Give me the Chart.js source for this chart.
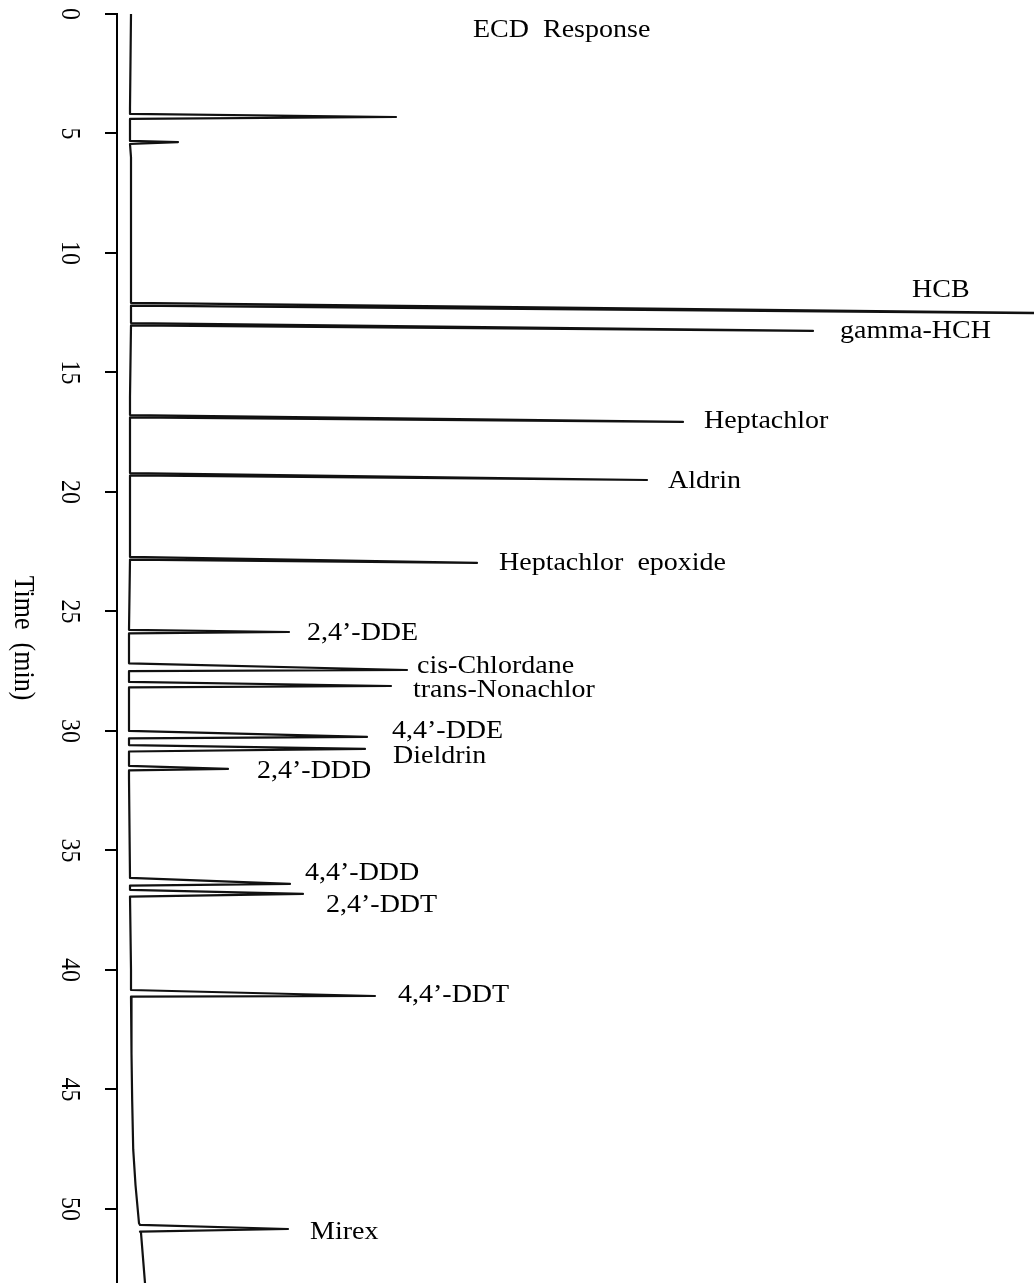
<!DOCTYPE html>
<html>
<head>
<meta charset="utf-8">
<title>ECD Response</title>
<script src="https://cdn.jsdelivr.net/npm/chart.js@4.4.1/dist/chart.umd.min.js"></script>
<style>
    body { margin: 0; background: #fff; }
    #wrap { width: 1034px; height: 1283px; position: relative; }
</style>
</head>
<body>
<div id="wrap"><canvas id="ecdChart"></canvas></div>
<script>
// peaks (time in min, response in arbitrary units)
const peakNames = ['', '', 'HCB', 'gamma-HCH', 'Heptachlor', 'Aldrin', 'Heptachlor  epoxide', '2,4’-DDE',
    'cis-Chlordane', 'trans-Nonachlor', '4,4’-DDE', 'Dieldrin', '2,4’-DDD', '4,4’-DDD', '2,4’-DDT', '4,4’-DDT', 'Mirex'];
const peakStart = [4.18, 5.31, 12.09, 12.93, 16.78, 19.21, 22.72, 25.77, 27.17, 27.95, 30.00, 30.59, 31.46, 36.15, 36.65, 40.84, 50.67];
const peakApex  = [4.31, 5.36, 12.55, 13.26, 17.07, 19.50, 22.97, 25.86, 27.45, 28.12, 30.25, 30.75, 31.59, 36.40, 36.82, 41.09, 50.84];
const peakEnd   = [4.39, 5.44, 12.20, 13.03, 16.88, 19.31, 22.83, 25.92, 27.50, 28.18, 30.31, 30.86, 31.65, 36.47, 36.93, 41.12, 50.95];
const peakHeight = [26.6, 4.8, 100, 68.3, 55.3, 51.7, 34.7, 15.9, 27.7, 26.1, 23.7, 23.5, 9.8, 16.0, 17.3, 24.5, 15.8];
const peakBase = [0, 0, 0.1, 0.1, 0, 0, 0, -0.1, -0.1, -0.1, -0.1, -0.1, -0.1, 0, 0, 0.1, 1.0];

// baseline drift between peaks
const baseTimes = [0, 3.9, 6, 12, 16, 26, 32, 40, 43.5, 45.5, 47.5, 49.0, 50.6, 51.0, 53.1];
const baseResp  = [0.1, 0.0, 0.1, 0.1, 0.0, -0.1, -0.1, 0.1, 0.15, 0.22, 0.32, 0.55, 0.9, 1.1, 1.5];

const timeTicks = [0, 5, 10, 15, 20, 25, 30, 35, 40, 45, 50];

// label offsets from the peak apex in px (style only)
const labelOffsets = [null, null, [-122, -23], [27, 1], [21, -1], [21, 1], [22, 0], [18, 1],
    [10, -4], [22, 4], [25, -5], [28, 8], [29, 2], [15, -10], [23, 12], [23, -1], [22, 3]];

const serif = '"Liberation Serif", "DejaVu Serif", serif';
const stretch = 1.12; // scan is a bit wider than tall

function buildTrace() {
    const groups = [];
    baseTimes.forEach((t, i) => {
        groups.push({ t: t, pts: [{ x: baseResp[i], y: t }] });
    });
    peakStart.forEach((t, i) => {
        groups.push({
            t: t,
            pts: [
                { x: peakBase[i], y: peakStart[i] },
                { x: peakHeight[i], y: peakApex[i] },
                { x: peakBase[i], y: peakEnd[i] }
            ]
        });
    });
    groups.sort((a, b) => a.t - b.t);
    return groups.flatMap(g => g.pts);
}

function drawStretched(ctx, text, x, y) {
    ctx.save();
    ctx.translate(x, y);
    ctx.scale(stretch, 1);
    ctx.fillText(text, 0, 0);
    ctx.restore();
}

const textPlugin = {
    id: 'ecdText',
    afterDraw(chart) {
        const ctx = chart.ctx;
        const xs = chart.scales.x;
        const ys = chart.scales.y;
        const area = chart.chartArea;
        ctx.save();
        ctx.fillStyle = '#000';
        ctx.textBaseline = 'middle';
        ctx.textAlign = 'left';

        // header
        ctx.font = `25px ${serif}`;
        drawStretched(ctx, 'ECD  Response', 473, 30);

        // peak names
        peakNames.forEach((name, i) => {
            if (!name) return;
            let px = xs.getPixelForValue(peakHeight[i]);
            const py = ys.getPixelForValue(peakApex[i]);
            if (px > area.right) px = area.right;
            const off = labelOffsets[i];
            drawStretched(ctx, name, px + off[0], py + off[1]);
        });

        // time tick labels, turned clockwise like the original
        ctx.font = `24px ${serif}`;
        ctx.textAlign = 'center';
        timeTicks.forEach(t => {
            const py = ys.getPixelForValue(t);
            ctx.save();
            ctx.translate(69, py);
            ctx.rotate(Math.PI / 2);
            ctx.scale(1, stretch);
            ctx.fillText(String(t), 0, 0);
            ctx.restore();
        });

        // axis title
        ctx.font = `26px ${serif}`;
        ctx.save();
        ctx.translate(23, 638);
        ctx.rotate(Math.PI / 2);
        ctx.scale(1, stretch);
        ctx.fillText('Time  (min)', 0, 0);
        ctx.restore();

        ctx.restore();
    }
};

const ctx = document.getElementById('ecdChart').getContext('2d');
new Chart(ctx, {
    type: 'scatter',
    data: {
        datasets: [{
            label: 'ECD Response',
            data: buildTrace(),
            showLine: true,
            borderColor: '#111',
            borderWidth: 2.2,
            borderJoinStyle: 'round',
            borderCapStyle: 'round',
            pointRadius: 0,
            tension: 0
        }]
    },
    options: {
        responsive: true,
        maintainAspectRatio: false,
        animation: false,
        layout: {
            padding: { left: 105, top: 14, right: 0, bottom: 0 }
        },
        plugins: {
            legend: { display: false },
            tooltip: { enabled: false }
        },
        scales: {
            x: {
                type: 'linear',
                display: false,
                min: -1.3,
                max: 90.4
            },
            y: {
                type: 'linear',
                position: 'left',
                reverse: true,
                min: 0,
                max: 53.1,
                afterBuildTicks: (axis) => {
                    axis.ticks = timeTicks.map(v => ({ value: v }));
                },
                ticks: { display: false },
                grid: {
                    drawOnChartArea: false,
                    drawTicks: true,
                    tickLength: 12,
                    color: '#000',
                    lineWidth: 2
                },
                border: { display: true, color: '#000', width: 2 }
            }
        }
    },
    plugins: [textPlugin]
});
</script>
</body>
</html>
